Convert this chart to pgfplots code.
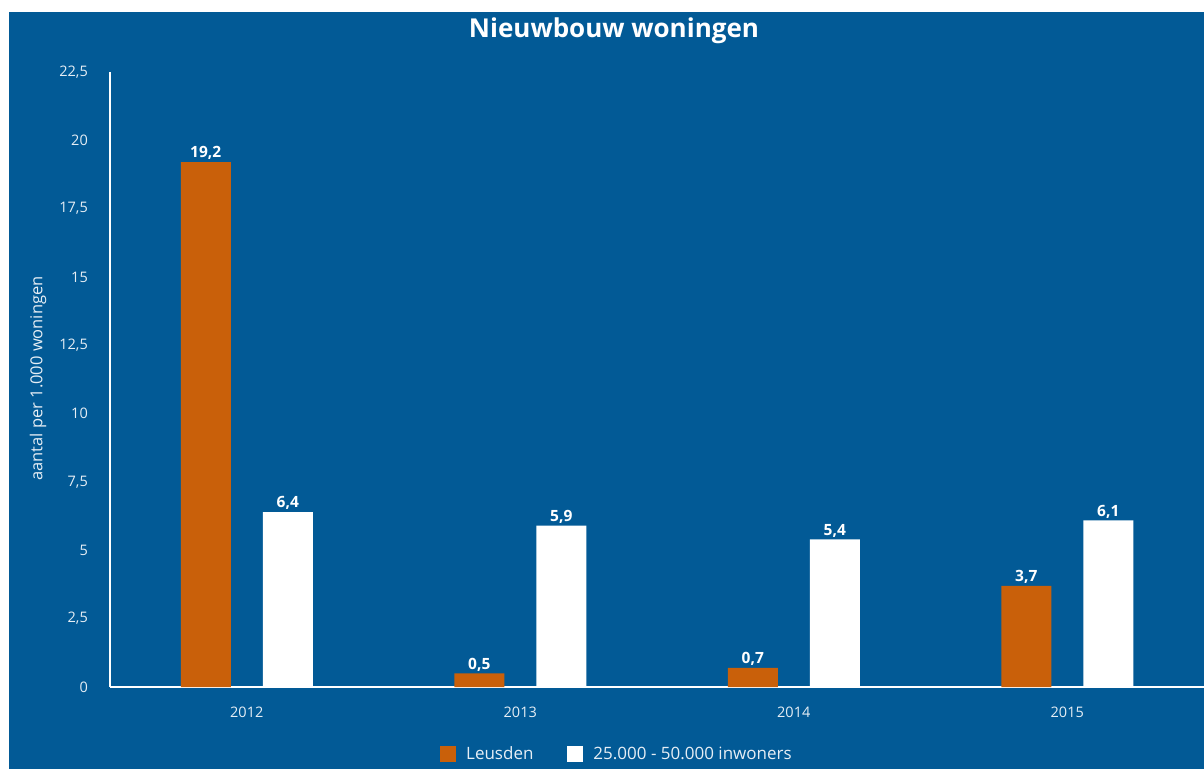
\documentclass[border=0pt]{standalone}
\usepackage{fontspec}
\setmainfont{Open Sans}
\usepackage{pgfplots}
\pgfplotsset{compat=1.18}
\definecolor{bg}{HTML}{025A96}
\definecolor{oranje}{HTML}{C9600A}
\definecolor{ticktxt}{HTML}{E6EEF5}

\begin{document}
\begin{tikzpicture}[x=1pt,y=1pt]
\fill[white] (0,0) rectangle (1204,769);
\fill[bg] (9,0) rectangle (1204,757);
\node[text=white, font=\bfseries\fontsize{26}{28}\selectfont] at (614,738) {Nieuwbouw woningen};
\node[text=ticktxt, rotate=90, font=\fontsize{16.5}{18}\selectfont] at (38,390.5) {aantal per 1.000 woningen};
\begin{axis}[
  at={(110pt,82pt)}, anchor=south west,
  width=1094pt, height=615pt, scale only axis,
  ybar, bar width=50pt,
  xmin=-0.5, xmax=3.5, ymin=0, ymax=22.5,
  xtick={0,1,2,3}, xticklabels={2012,2013,2014,2015},
  ytick={0,2.5,5,7.5,10,12.5,15,17.5,20,22.5},
  yticklabels={0,{2,5},5,{7,5},10,{12,5},15,{17,5},20,{22,5}},
  axis x line*=bottom, axis y line*=left,
  axis line style={white, line width=1.4pt},
  major tick length=0pt,
  tick label style={text=ticktxt, font=\fontsize{14.5}{16}\selectfont},
  xticklabel style={anchor=center, yshift=-25pt},
  yticklabel style={anchor=east, inner sep=0pt, xshift=-22pt},
  nodes near coords={\pgfmathprintnumber[fixed,fixed zerofill,precision=1,use comma,assume math mode=true]{\pgfplotspointmeta}},
  every node near coord/.append style={text=white, font=\bfseries\fontsize{15.5}{17}\selectfont, inner sep=2pt},
  legend image code/.code={\fill[#1] (0pt,-7.5pt) rectangle (16pt,8pt); \path (24pt,0pt);},
  legend columns=2,
  legend style={draw=none, fill=none, text=ticktxt, font=\fontsize{17}{19}\selectfont,
    at={(axis description cs:0.4634,-0.109)}, anchor=center,
    /tikz/every even column/.append style={column sep=32pt}},
  clip=false]
\addplot[fill=oranje, draw=none, bar shift=-41pt] coordinates {(0,19.2) (1,0.5) (2,0.7) (3,3.7)};
\addlegendentry{Leusden}
\addplot[fill=white, draw=none, bar shift=41pt] coordinates {(0,6.4) (1,5.9) (2,5.4) (3,6.1)};
\addlegendentry{25.000 - 50.000 inwoners}
\end{axis}
\pgfresetboundingbox
\path[use as bounding box] (0,0) rectangle (1204,769);
\end{tikzpicture}
\end{document}
